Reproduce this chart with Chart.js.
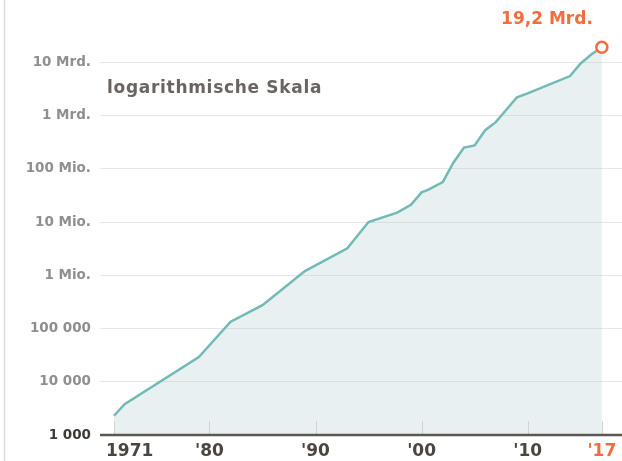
<!DOCTYPE html>
<html>
<head>
<meta charset="utf-8">
<script src="https://cdn.jsdelivr.net/npm/chart.js@4/dist/chart.umd.min.js"></script>
<style>
  html, body { margin: 0; padding: 0; background: #ffffff; }
  #wrap { position: relative; width: 622px; height: 461px; }
</style>
</head>
<body>
<div id="wrap"><canvas id="c" width="622" height="461"></canvas></div>
<script>
// ---- data ----
const years = [1971, 1972, 1979, 1982, 1985, 1989, 1993, 1995, 1997.7, 1999, 2000, 2000.6, 2002, 2003, 2004, 2005, 2006, 2007, 2009, 2010, 2014, 2015, 2016, 2017];
const transistors = [2300, 3800, 29000, 134000, 275000, 1200000, 3200000, 10000000, 15000000, 21000000, 36000000, 40000000, 56000000, 130000000, 250000000, 275000000, 530000000, 750000000, 2200000000, 2600000000, 5500000000, 9500000000, 14000000000, 19200000000];
const yTickValues = [1e3, 1e4, 1e5, 1e6, 1e7, 1e8, 1e9, 1e10];
const yTickLabels = ["1 000", "10 000", "100 000", "1 Mio.", "10 Mio.", "100 Mio.", "1 Mrd.", "10 Mrd."];
const xTickValues = [1971, 1980, 1990, 2000, 2010, 2017];
const xTickLabels = ["1971", "'80", "'90", "'00", "'10", "'17"];
const scaleNote = "logarithmische Skala";
const endLabel = "19,2 Mrd.";

const ORANGE = '#f26d3d';
const TEAL = '#72bab5';

const overlay = {
  id: 'overlay',
  beforeDraw(chart) {
    const ctx = chart.ctx;
    ctx.save();
    ctx.strokeStyle = '#dcdcdc';
    ctx.lineWidth = 1.5;
    ctx.beginPath();
    ctx.moveTo(4.5, 0);
    ctx.lineTo(4.5, chart.height);
    ctx.stroke();
    ctx.restore();
  },
  afterDatasetsDraw(chart) {
    const { ctx, chartArea, scales: { x, y } } = chart;
    ctx.save();
    // tick marks above the axis
    ctx.strokeStyle = '#d2d2d2';
    ctx.lineWidth = 1;
    xTickValues.forEach(v => {
      const px = Math.round(x.getPixelForValue(v)) + 0.5;
      ctx.beginPath();
      ctx.moveTo(px, chartArea.bottom - 14);
      ctx.lineTo(px, chartArea.bottom);
      ctx.stroke();
    });
    // base axis line
    const by = y.getPixelForValue(1000);
    ctx.strokeStyle = '#5e5751';
    ctx.lineWidth = 2.5;
    ctx.beginPath();
    ctx.moveTo(chartArea.left, by);
    ctx.lineTo(chartArea.right, by);
    ctx.stroke();
    // x labels
    ctx.font = 'bold 17px "DejaVu Sans"';
    ctx.textBaseline = 'middle';
    xTickValues.forEach((v, i) => {
      const px = x.getPixelForValue(v);
      ctx.fillStyle = i === xTickValues.length - 1 ? ORANGE : '#4b4540';
      if (i === 0) { ctx.textAlign = 'left'; ctx.fillText(xTickLabels[i], px - 8, 452); }
      else { ctx.textAlign = 'center'; ctx.fillText(xTickLabels[i], px, 452); }
    });
    // note
    ctx.font = 'bold 17px "DejaVu Sans"';
    ctx.letterSpacing = '0.7px';
    ctx.fillStyle = '#6a6460';
    ctx.textAlign = 'left';
    ctx.fillText(scaleNote, 107, 89);
    ctx.letterSpacing = '0px';
    // end label
    const last = transistors.length - 1;
    const ex = x.getPixelForValue(years[last]);
    const ey = y.getPixelForValue(transistors[last]);
    ctx.font = 'bold 17px "DejaVu Sans"';
    ctx.fillStyle = ORANGE;
    ctx.textAlign = 'right';
    ctx.fillText(endLabel, ex - 9, ey - 28);
    ctx.restore();
  }
};

const points = years.map((yr, i) => ({ x: yr, y: transistors[i] }));
const lastIdx = points.length - 1;

new Chart(document.getElementById('c'), {
  type: 'line',
  data: {
    datasets: [{
      data: points,
      borderColor: TEAL,
      borderWidth: 2.5,
      backgroundColor: 'rgba(180,205,212,0.30)',
      fill: 'start',
      tension: 0,
      pointRadius: c => c.dataIndex === lastIdx ? 5.5 : 0,
      pointHoverRadius: c => c.dataIndex === lastIdx ? 5.5 : 0,
      pointBackgroundColor: '#ffffff',
      pointBorderColor: ORANGE,
      pointBorderWidth: 2.5,
      clip: false
    }]
  },
  options: {
    responsive: false,
    animation: false,
    events: [],
    layout: { autoPadding: false, padding: { top: 9, right: 0, left: 0, bottom: 0 } },
    plugins: { legend: { display: false }, tooltip: { enabled: false } },
    scales: {
      x: {
        type: 'linear',
        min: 1969.68,
        max: 2018.9,
        grid: { display: false },
        border: { display: false },
        ticks: { display: false },
        afterFit: s => { s.height = 26; s.paddingLeft = 0; s.paddingRight = 0; }
      },
      y: {
        type: 'logarithmic',
        min: 1e3,
        max: 1e11,
        afterBuildTicks: s => { s.ticks = yTickValues.map(v => ({ value: v })); },
        grid: {
          color: c => (c.tick && c.tick.value === 1e3) ? 'rgba(0,0,0,0)' : '#e6e6e6',
          lineWidth: 1,
          drawTicks: false
        },
        border: { display: false },
        ticks: {
          padding: 9,
          autoSkip: false,
          font: { family: '"DejaVu Sans"', size: 13.5, weight: 'bold' },
          color: c => (c.tick && c.tick.value === 1e3) ? '#3f3a36' : '#8f8f8f',
          callback: v => {
            const k = yTickValues.indexOf(v);
            return k >= 0 ? yTickLabels[k] : '';
          }
        },
        afterFit: s => { s.width = 100; s.paddingTop = 0; s.paddingBottom = 0; }
      }
    }
  },
  plugins: [overlay]
});
</script>
</body>
</html>
